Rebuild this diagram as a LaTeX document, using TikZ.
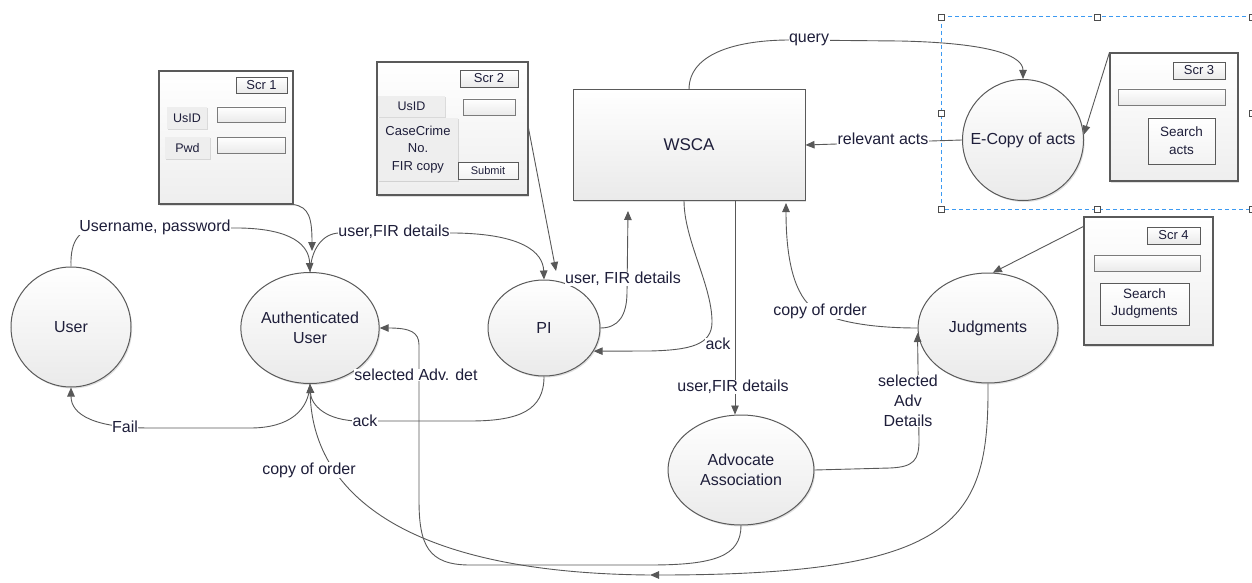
\documentclass[tikz,border=0pt]{standalone}
\usepackage{fontspec}
\setmainfont{Liberation Sans}
\usetikzlibrary{arrows.meta,shapes.geometric,shadows}
\definecolor{txt}{HTML}{1E1E3A}
\definecolor{bord}{HTML}{5A5A5A}
\definecolor{ln}{HTML}{585858}
\definecolor{fillbot}{HTML}{EAEAEA}
\definecolor{btnc}{HTML}{EEEEEE}
\definecolor{selc}{HTML}{3C9AF2}
\begin{document}
\begin{tikzpicture}[x=1pt,y=-1pt,
  shd/.style={drop shadow={shadow xshift=1.2pt,shadow yshift=-1.5pt,opacity=0.12,fill=black}},
  proc/.style={ellipse,draw=bord,line width=1pt,top color=white,bottom color=fillbot,text=txt,font=\fontsize{16}{20}\selectfont,align=center,inner sep=0pt,shd},
  procc/.style={proc,circle},
  boxw/.style={rectangle,draw=bord,line width=1pt,top color=white,bottom color=fillbot,text=txt,inner sep=0pt,shd},
  scr/.style={rectangle,draw=bord,line width=1.1pt,top color=white,bottom color=fillbot!80,inner sep=0pt,shd},
  tag/.style={rectangle,draw=bord,line width=0.9pt,top color=white,bottom color=fillbot,text=txt,font=\fontsize{13}{15}\selectfont,inner sep=0pt},
  btn/.style={rectangle,fill=btnc,text=txt,font=\fontsize{12.5}{17.5}\selectfont,align=center,inner sep=0pt,drop shadow={shadow xshift=1pt,shadow yshift=-1pt,opacity=0.12,fill=black}},
  fld/.style={rectangle,draw=bord!80,line width=0.9pt,top color=white,bottom color=fillbot,inner sep=0pt},
  sbtn/.style={rectangle,draw=bord,line width=0.9pt,top color=white,bottom color=fillbot!60,text=txt,align=center,inner sep=0pt},
  conn/.style={draw=ln,line width=0.9pt,-{Triangle[length=9pt,width=7.5pt]}},
  lbl/.style={fill=white,text=txt,font=\fontsize{16}{20}\selectfont,inner sep=0.5pt,align=center},
  handle/.style={rectangle,draw=black!70,fill=white,line width=0.6pt,minimum size=6pt,inner sep=0pt}]
\useasboundingbox (0,0) rectangle (1252,583);
\fill[white] (0,0) rectangle (1252,583);

% selection frame
\draw[draw=selc,dash pattern=on 4pt off 3pt,line width=1pt] (941,17) rectangle (1255,209);
\foreach \n/\p in {h1/{(941,17)},h2/{(1097,17)},h3/{(1252,17)},h4/{(941,113)},h5/{(1252,113)},h6/{(941,209)},h7/{(1097,209)},h8/{(1252,209)}}
  \node[handle] (\n) at \p {};

% main nodes
\node[procc,minimum size=120pt] (user) at (71,327) {User};
\node[proc,minimum width=136pt,minimum height=111pt] (auth) at (310,328) {Authenticated\\User};
\node[proc,minimum width=112pt,minimum height=96pt] (pi) at (544,328) {PI};
\node[boxw,minimum width=232pt,minimum height=110pt,font=\fontsize{17}{20}\selectfont] (wsca) at (689,145) {WSCA};
\node[procc,minimum size=121pt] (ecopy) at (1023,140) {E-Copy of acts};
\node[proc,minimum width=140pt,minimum height=110pt] (judg) at (988,328) {Judgments};
\node[proc,minimum width=146pt,minimum height=110pt] (adv) at (741,470) {Advocate\\Association};

% screen 1
\node[scr,minimum width=134pt,minimum height=133pt] (s1) at (226,137.5) {};
\node[tag,minimum width=51pt,minimum height=16pt] (s1t) at (261.5,85) {Scr 1};
\node[btn,minimum width=40pt,minimum height=22pt] (s1u) at (187,118) {UsID};
\node[fld,minimum width=68pt,minimum height=15pt] (s1f1) at (251,114.5) {};
\node[btn,minimum width=45pt,minimum height=22pt] (s1p) at (187.5,148) {Pwd};
\node[fld,minimum width=68pt,minimum height=16pt] (s1f2) at (251,145) {};

% screen 2
\node[scr,minimum width=151pt,minimum height=133pt] (s2) at (452.5,128.5) {};
\node[tag,minimum width=58pt,minimum height=17pt] (s2t) at (489,78.5) {Scr 2};
\node[btn,minimum width=67pt,minimum height=21pt] (s2u) at (411.5,106.5) {UsID};
\node[fld,minimum width=52pt,minimum height=16pt] (s2f) at (489,107) {};
\node[btn,minimum width=80pt,minimum height=63pt,font=\fontsize{13}{17.5}\selectfont] (s2c) at (418,149.5) {CaseCrime\\No.\\FIR copy};
\node[sbtn,minimum width=60pt,minimum height=17pt,font=\fontsize{11}{13}\selectfont] (s2s) at (488,170.5) {Submit};

% screen 3
\node[scr,minimum width=128pt,minimum height=128pt] (s3) at (1174,117) {};
\node[tag,minimum width=52pt,minimum height=17pt] (s3t) at (1199,70.5) {Scr 3};
\node[fld,minimum width=107pt,minimum height=16pt] (s3f) at (1171.5,97) {};
\node[sbtn,minimum width=67pt,minimum height=46pt,font=\fontsize{13.5}{18}\selectfont] (s3b) at (1181.5,141) {Search\\acts};

% screen 4
\node[scr,minimum width=129pt,minimum height=128pt] (s4) at (1148.5,281) {};
\node[tag,minimum width=53pt,minimum height=17pt] (s4t) at (1173.5,235.5) {Scr 4};
\node[fld,minimum width=106pt,minimum height=16pt] (s4f) at (1147,263) {};
\node[sbtn,minimum width=89pt,minimum height=42pt,font=\fontsize{13.5}{17}\selectfont] (s4b) at (1144.5,304) {Search\\Judgments};

% free ends
\coordinate (e1) at (312,251);
\coordinate (e2) at (556,271);
\coordinate (e3) at (628,211);
\coordinate (e4) at (786,203);
\coordinate (cm) at (650,575);

% connectors
\draw[conn] (user.north) .. controls (70,240) and (80,228) .. (100,228) -- (240,228) .. controls (292,229) and (309,245) .. (auth.north);
\draw[conn] (s1.south east) .. controls (309,207) and (312,218) .. (e1);
\draw[conn] (auth.north) .. controls (311,250) and (322,233) .. (340,233) -- (455,233) .. controls (522,234) and (543,252) .. (pi.north);
\draw[conn] (s2.east) -- (e2);
\draw[conn] (pi.east) .. controls (618,328) and (627,316) .. (627,292) -- (e3);
\draw[conn] ([xshift=-5pt]wsca.south) .. controls (684,240) and (712,285) .. (712,322) .. controls (712,345) and (690,350) .. (650,351) -- (pi.-25);
\draw[conn] ([xshift=46pt]wsca.south) -- ([xshift=-6pt]adv.north);
\draw[conn] (judg.west) .. controls (872,328) and (836,322) .. (815,310) .. controls (795,296) and (786,262) .. (e4);
\draw[conn] (adv.east) -- (890,468) .. controls (914,467) and (919,460) .. (919,440) -- ([yshift=-5pt]judg.west);
\draw[conn] ([yshift=-10pt]s4.north west) -- (judg.85);
\draw[conn] (s3.north west) -- (ecopy.5);
\draw[conn] (wsca.north) .. controls (689,52) and (740,40) .. (790,40) -- (900,41) .. controls (992,43) and (1023,56) .. (ecopy.north);
\draw[conn] (ecopy.west) -- (wsca.east);
\draw[conn] (adv.south) .. controls (741,556) and (715,565) .. (650,565) -- (470,565) .. controls (428,565) and (419,545) .. (419,500) -- (419,345) .. controls (419,332) and (410,328) .. (auth.east);
\draw[conn] (pi.south) .. controls (544,410) and (520,421) .. (470,421) -- (360,421) .. controls (326,421) and (311,405) .. (auth.south);
\draw[conn] (auth.south) .. controls (309,410) and (290,428) .. (250,428) -- (150,428) .. controls (95,428) and (71,415) .. (user.south);
\draw[conn] (judg.south) .. controls (989,520) and (960,575) .. (cm);
\draw[conn] (cm) .. controls (400,573) and (312,490) .. (auth.south);

% labels
\node[lbl] (l1) at (155,227) {Username, password};
\node[lbl] (l2) at (394,232) {user,FIR details};
\node[lbl] (l3) at (623,279) {user, FIR details};
\node[lbl] (l4) at (718,344) {ack};
\node[lbl] (l5) at (733,387) {user,FIR details};
\node[lbl] (l6) at (820,311) {copy of order};
\node[lbl] (l7) at (908,401) {selected\\Adv\\Details};
\node[lbl] (l8) at (809,40) {query};
\node[lbl] (l9) at (883,139) {relevant acts};
\node[lbl] (l10) at (416,375) {selected Adv. det};
\node[lbl] (l11) at (365,421) {ack};
\node[lbl] (l12) at (125,427) {Fail};
\node[lbl] (l13) at (309,470) {copy of order};
\end{tikzpicture}
\end{document}
